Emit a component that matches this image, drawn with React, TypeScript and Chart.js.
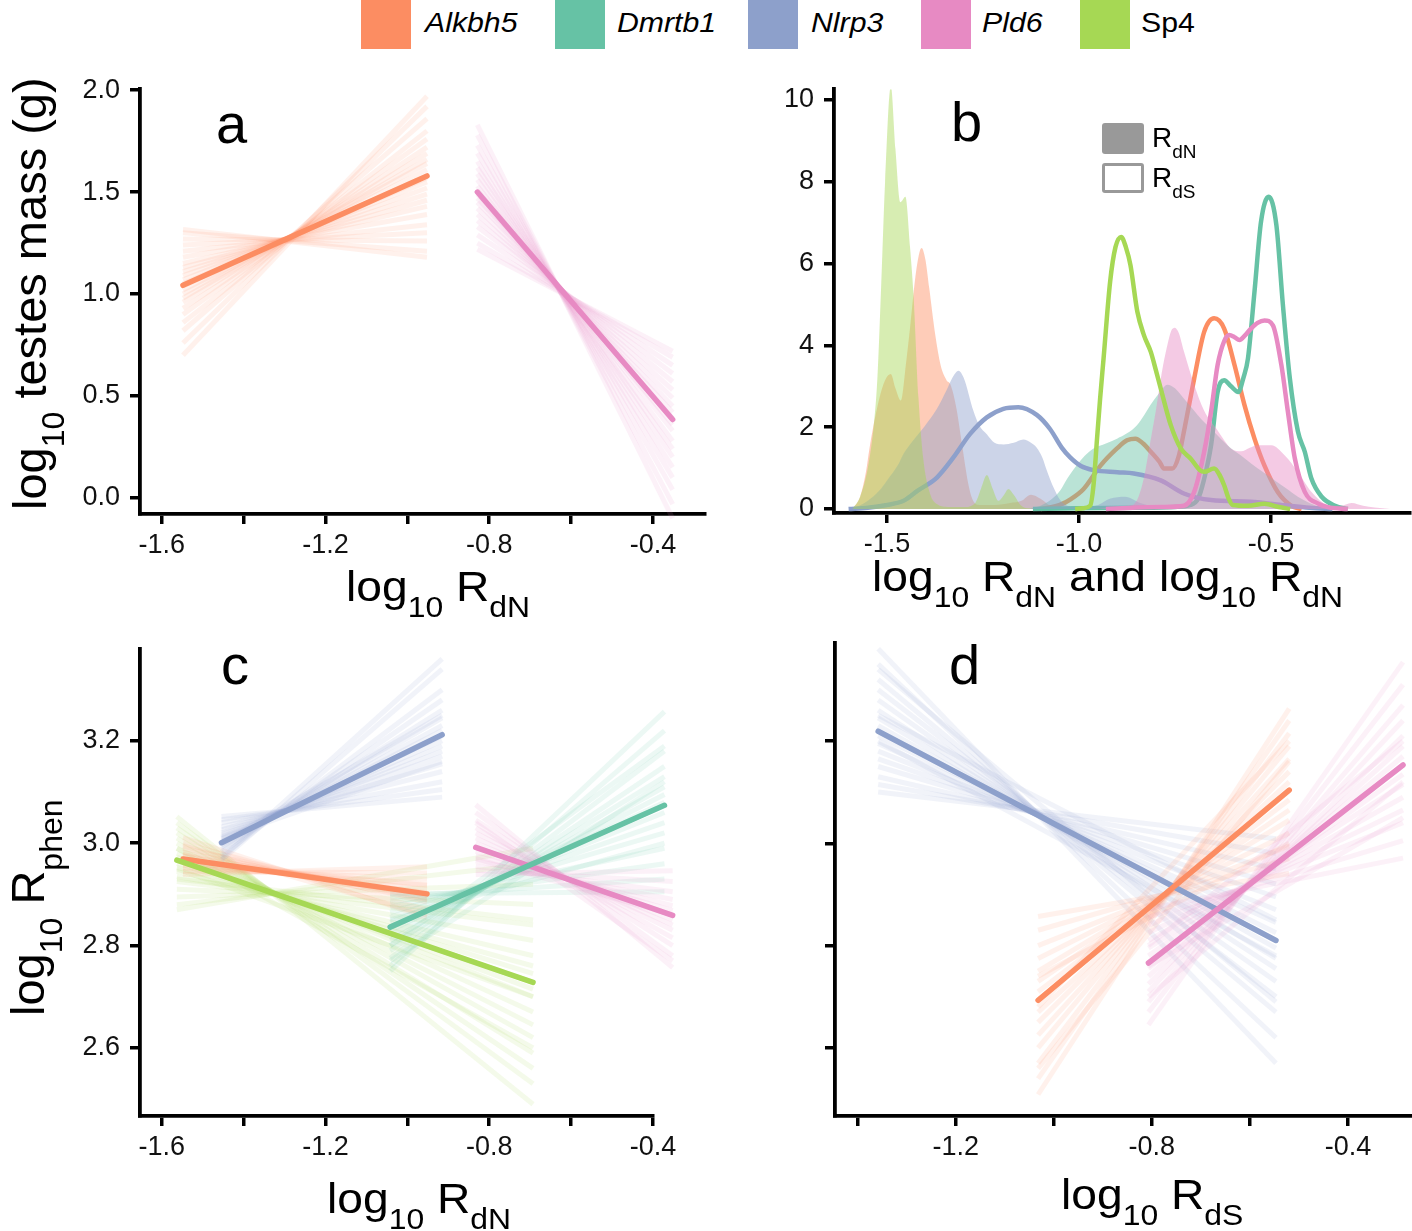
import React, { useEffect, useRef } from "react";
import { Chart, registerables } from "chart.js";

Chart.register(...registerables);

const FONT = '"Liberation Sans", Arial, Helvetica, sans-serif';

// ---------------- genes / legend ----------------
const GENES = ["Alkbh5", "Dmrtb1", "Nlrp3", "Pld6", "Sp4"];
const GENE_ITALIC = [true, true, true, true, false];
const GENE_COLORS = ["#FC8D62", "#66C2A5", "#8DA0CB", "#E78AC3", "#A6D854"];

// ---------------- ticks ----------------
const RDN_TICKS = [-1.6, -1.4, -1.2, -1.0, -0.8, -0.6, -0.4];
const RDN_TICK_LABELS = ["-1.6", "", "-1.2", "", "-0.8", "", "-0.4"];
const MASS_TICKS = [0, 0.5, 1.0, 1.5, 2.0];
const MASS_TICK_LABELS = ["0.0", "0.5", "1.0", "1.5", "2.0"];
const DENS_X_TICKS = [-1.5, -1.0, -0.5];
const DENS_X_LABELS = ["-1.5", "-1.0", "-0.5"];
const DENS_Y_TICKS = [0, 2, 4, 6, 8, 10];
const DENS_Y_LABELS = ["0", "2", "4", "6", "8", "10"];
const PHEN_TICKS = [2.6, 2.8, 3.0, 3.2];
const PHEN_TICK_LABELS = ["2.6", "2.8", "3.0", "3.2"];
const PHEN_TICK_LABELS_D = ["", "", "", ""];
const RDS_TICKS = [-1.4, -1.2, -1.0, -0.8, -0.6, -0.4];
const RDS_TICK_LABELS = ["", "-1.2", "", "-0.8", "", "-0.4"];

// ---------------- panel a: log10 testes mass vs log10 RdN ----------------
const A_ALKBH5_X = [-1.548, -0.952];
const A_ALKBH5_FIT = [1.043, 1.579];
const A_ALKBH5_DRAWS = [
  [0.7, 1.97], [0.76, 1.92], [0.82, 1.86], [0.86, 1.8], [0.9, 1.76], [0.93, 1.72],
  [0.96, 1.69], [0.98, 1.66], [1.0, 1.64], [1.02, 1.61], [1.04, 1.58], [1.05, 1.57],
  [1.07, 1.55], [1.09, 1.52], [1.11, 1.49], [1.13, 1.46], [1.15, 1.43], [1.18, 1.39],
  [1.21, 1.34], [1.24, 1.3], [1.27, 1.26], [1.3, 1.21], [1.317, 1.18],
];
const A_PLD6_X = [-0.829, -0.352];
const A_PLD6_FIT = [1.5, 0.385];
const A_PLD6_DRAWS = [
  [1.83, -0.1], [1.78, -0.03], [1.73, 0.04], [1.69, 0.1], [1.65, 0.15], [1.62, 0.2],
  [1.59, 0.24], [1.56, 0.28], [1.53, 0.33], [1.51, 0.36], [1.49, 0.39], [1.47, 0.42],
  [1.45, 0.45], [1.42, 0.49], [1.39, 0.53], [1.36, 0.57], [1.33, 0.61], [1.29, 0.65],
  [1.25, 0.69], [1.22, 0.72],
];

// ---------------- panel b: densities ----------------
const B_ALKBH5_RDN = [
  [-1.59, 0], [-1.57, 0.3], [-1.555, 0.9], [-1.544, 1.58], [-1.52, 2.7], [-1.505, 3.15],
  [-1.49, 3.3], [-1.478, 2.95], [-1.464, 2.65], [-1.45, 3.6], [-1.44, 4.43], [-1.423, 5.89],
  [-1.41, 6.38], [-1.4, 6.1], [-1.39, 5.4], [-1.375, 4.3], [-1.36, 3.5], [-1.345, 3.15],
  [-1.335, 3.05], [-1.32, 2.5], [-1.305, 1.6], [-1.29, 0.7], [-1.278, 0.25], [-1.26, 0.1],
  [-1.22, 0.1], [-1.18, 0.15], [-1.15, 0.2], [-1.125, 0.35], [-1.1, 0.25], [-1.07, 0.05], [-1.04, 0],
];
const B_DMRTB1_RDN = [
  [-1.13, 0], [-1.1, 0.08], [-1.07, 0.25], [-1.049, 0.45], [-1.03, 0.75], [-1.006, 1.07],
  [-0.985, 1.3], [-0.962, 1.48], [-0.93, 1.6], [-0.901, 1.72], [-0.875, 1.85], [-0.849, 2.05],
  [-0.83, 2.3], [-0.814, 2.54], [-0.79, 2.85], [-0.77, 3.04], [-0.75, 2.95], [-0.727, 2.7],
  [-0.7, 2.4], [-0.682, 2.2], [-0.66, 2.0], [-0.639, 1.8], [-0.604, 1.48], [-0.578, 1.31],
  [-0.55, 1.1], [-0.52, 0.9], [-0.49, 0.7], [-0.46, 0.5], [-0.43, 0.3], [-0.4, 0.15],
  [-0.37, 0.05], [-0.34, 0],
];
const B_NLRP3_RDN = [
  [-1.59, 0], [-1.55, 0.2], [-1.52, 0.45], [-1.5, 0.7], [-1.47, 1.1], [-1.457, 1.35],
  [-1.43, 1.7], [-1.4, 2.05], [-1.37, 2.45], [-1.345, 2.9], [-1.33, 3.2], [-1.314, 3.38],
  [-1.3, 3.2], [-1.275, 2.4], [-1.26, 2.05], [-1.24, 1.83], [-1.22, 1.62], [-1.197, 1.58],
  [-1.17, 1.62], [-1.145, 1.7], [-1.125, 1.62], [-1.11, 1.5], [-1.095, 1.25], [-1.084, 0.95],
  [-1.065, 0.5], [-1.049, 0.22], [-1.03, 0.08], [-1.0, 0.05], [-0.95, 0.1], [-0.92, 0.25],
  [-0.88, 0.3], [-0.84, 0.15], [-0.8, 0.05], [-0.75, 0],
];
const B_PLD6_RDN = [
  [-0.95, 0], [-0.9, 0.05], [-0.86, 0.1], [-0.845, 0.3], [-0.83, 0.8], [-0.815, 1.6],
  [-0.8, 2.4], [-0.785, 3.3], [-0.77, 4.0], [-0.76, 4.35], [-0.751, 4.43], [-0.74, 4.3],
  [-0.727, 3.86], [-0.7, 3.04], [-0.674, 2.4], [-0.639, 1.92], [-0.604, 1.48], [-0.578, 1.41],
  [-0.555, 1.5], [-0.534, 1.56], [-0.499, 1.56], [-0.464, 1.31], [-0.43, 0.91], [-0.395, 0.42],
  [-0.352, 0.1], [-0.32, 0.08], [-0.29, 0.15], [-0.26, 0.08], [-0.23, 0.04], [-0.19, 0],
];
const B_SP4_RDN = [
  [-1.59, 0], [-1.57, 0.3], [-1.55, 1.0], [-1.535, 2.0], [-1.525, 3.2], [-1.515, 5.5],
  [-1.505, 8.0], [-1.49, 10.33], [-1.478, 8.8], [-1.465, 7.5], [-1.452, 7.63], [-1.44, 6.4],
  [-1.431, 5.25], [-1.418, 2.72], [-1.405, 1.19], [-1.388, 0.38], [-1.37, 0.12], [-1.34, 0.05],
  [-1.3, 0.05], [-1.27, 0.15], [-1.255, 0.5], [-1.24, 0.83], [-1.225, 0.5], [-1.21, 0.2],
  [-1.195, 0.35], [-1.184, 0.49], [-1.17, 0.35], [-1.15, 0.08], [-1.12, 0],
];

const B_ALKBH5_RDS = [
  [-1.1, 0], [-1.05, 0.1], [-1.02, 0.25], [-0.988, 0.49], [-0.944, 1.06], [-0.901, 1.48],
  [-0.875, 1.68], [-0.853, 1.72], [-0.833, 1.6], [-0.813, 1.4], [-0.79, 1.15], [-0.779, 0.99],
  [-0.757, 0.99], [-0.74, 1.3], [-0.727, 1.88], [-0.7, 3.19], [-0.674, 4.33], [-0.648, 4.66],
  [-0.622, 4.41], [-0.595, 3.52], [-0.569, 2.54], [-0.543, 1.72], [-0.517, 1.06], [-0.482, 0.41],
  [-0.447, 0.08], [-0.42, 0],
];
const B_DMRTB1_RDS = [
  [-1.12, 0], [-1.0, 0.02], [-0.85, 0.03], [-0.75, 0.05], [-0.71, 0.1], [-0.69, 0.25],
  [-0.675, 0.7], [-0.656, 1.56], [-0.639, 2.86], [-0.622, 3.15], [-0.604, 3.0], [-0.585, 2.86],
  [-0.572, 3.2], [-0.56, 3.68], [-0.543, 5.31], [-0.526, 7.02], [-0.506, 7.63], [-0.486, 6.94],
  [-0.469, 4.99], [-0.451, 3.2], [-0.43, 1.9], [-0.412, 1.4], [-0.395, 0.75], [-0.368, 0.3],
  [-0.333, 0.08], [-0.3, 0],
];
const B_NLRP3_RDS = [
  [-1.6, 0], [-1.55, 0.03], [-1.5, 0.1], [-1.457, 0.2], [-1.42, 0.45], [-1.37, 0.77],
  [-1.327, 1.26], [-1.284, 1.83], [-1.24, 2.24], [-1.197, 2.45], [-1.158, 2.49], [-1.11, 2.3],
  [-1.075, 1.95], [-1.045, 1.5], [-1.023, 1.26], [-0.995, 1.05], [-0.962, 0.95], [-0.9, 0.9],
  [-0.857, 0.87], [-0.787, 0.7], [-0.727, 0.38], [-0.656, 0.22], [-0.552, 0.18], [-0.464, 0.09],
  [-0.4, 0.03], [-0.34, 0],
];
const B_PLD6_RDS = [
  [-0.93, 0], [-0.85, 0.04], [-0.78, 0.05], [-0.727, 0.08], [-0.7, 0.42], [-0.674, 1.4],
  [-0.656, 2.38], [-0.639, 3.52], [-0.622, 4.1], [-0.609, 4.25], [-0.595, 4.2], [-0.582, 4.13],
  [-0.567, 4.25], [-0.552, 4.41], [-0.535, 4.55], [-0.517, 4.61], [-0.495, 4.49], [-0.473, 3.52],
  [-0.456, 2.38], [-0.438, 1.24], [-0.412, 0.42], [-0.377, 0.13], [-0.35, 0.04], [-0.3, 0],
];
const B_SP4_RDS = [
  [-1.01, 0], [-0.99, 0.02], [-0.971, 0.08], [-0.962, 0.6], [-0.953, 1.72], [-0.945, 2.7],
  [-0.936, 3.68], [-0.919, 5.55], [-0.905, 6.4], [-0.89, 6.65], [-0.878, 6.4], [-0.866, 5.96],
  [-0.848, 4.82], [-0.831, 4.25], [-0.813, 3.84], [-0.8, 3.4], [-0.787, 2.94], [-0.761, 2.05],
  [-0.735, 1.48], [-0.709, 1.23], [-0.685, 0.95], [-0.674, 0.91], [-0.648, 0.99], [-0.635, 0.85],
  [-0.622, 0.58], [-0.61, 0.25], [-0.6, 0.1], [-0.56, 0.08], [-0.517, 0.13], [-0.48, 0.05], [-0.45, 0],
];

// ---------------- panel c: log10 Rphen vs log10 RdN ----------------
const C_NLRP3_X = [-1.454, -0.915];
const C_NLRP3_FIT = [3.001, 3.212];
const C_NLRP3_DRAWS = [
  [2.967, 3.34], [2.975, 3.3], [2.982, 3.28], [2.988, 3.26], [2.993, 3.245], [2.997, 3.23],
  [3.0, 3.22], [3.004, 3.21], [3.008, 3.2], [3.012, 3.19], [3.016, 3.18], [3.02, 3.17],
  [3.026, 3.155], [3.032, 3.14], [3.04, 3.12], [3.046, 3.105], [3.052, 3.09], [2.97, 3.36],
  [3.0, 3.25], [3.01, 3.16],
];
const C_ALKBH5_X = [-1.548, -0.952];
const C_ALKBH5_FIT = [2.969, 2.901];
const C_ALKBH5_DRAWS = [
  [3.011, 2.855], [3.0, 2.87], [2.99, 2.885], [2.982, 2.893], [2.975, 2.898], [2.969, 2.903],
  [2.963, 2.91], [2.957, 2.918], [2.951, 2.93], [2.945, 2.942], [2.939, 2.954], [2.995, 2.86],
  [2.96, 2.92], [2.978, 2.89],
];
const C_SP4_X = [-1.563, -0.693];
const C_SP4_FIT = [2.967, 2.728];
const C_SP4_DRAWS = [
  [3.052, 2.49], [3.04, 2.53], [3.03, 2.56], [3.02, 2.59], [3.01, 2.62], [3.0, 2.645],
  [2.99, 2.67], [2.98, 2.7], [2.973, 2.715], [2.967, 2.728], [2.96, 2.745], [2.953, 2.76],
  [2.945, 2.78], [2.935, 2.81], [2.925, 2.84], [2.91, 2.88], [2.895, 2.92], [2.88, 2.96],
  [2.87, 2.99], [2.99, 2.6], [2.95, 2.7], [2.93, 2.85],
];
const C_DMRTB1_X = [-1.042, -0.372];
const C_DMRTB1_FIT = [2.836, 3.074];
const C_DMRTB1_DRAWS = [
  [2.75, 3.257], [2.76, 3.22], [2.775, 3.18], [2.79, 3.15], [2.8, 3.13], [2.81, 3.11],
  [2.82, 3.095], [2.83, 3.08], [2.836, 3.074], [2.845, 3.06], [2.855, 3.04], [2.865, 3.02],
  [2.875, 2.99], [2.885, 2.96], [2.895, 2.93], [2.901, 2.905], [2.77, 3.12], [2.85, 3.0],
  [2.8, 3.19],
];
const C_PLD6_X = [-0.833, -0.352];
const C_PLD6_FIT = [2.992, 2.859];
const C_PLD6_DRAWS = [
  [3.075, 2.757], [3.06, 2.78], [3.045, 2.8], [3.03, 2.815], [3.02, 2.83], [3.01, 2.84],
  [3.0, 2.85], [2.992, 2.859], [2.984, 2.868], [2.975, 2.878], [2.965, 2.89], [2.955, 2.905],
  [2.947, 2.925], [2.939, 2.946], [3.04, 2.77], [2.97, 2.86],
];

// ---------------- panel d: log10 Rphen vs log10 RdS ----------------
const D_NLRP3_X = [-1.358, -0.547];
const D_NLRP3_FIT = [3.219, 2.81];
const D_NLRP3_DRAWS = [
  [3.38, 2.57], [3.35, 2.62], [3.32, 2.67], [3.3, 2.7], [3.28, 2.73], [3.26, 2.755],
  [3.245, 2.775], [3.23, 2.795], [3.219, 2.81], [3.21, 2.825], [3.195, 2.845], [3.18, 2.87],
  [3.165, 2.895], [3.15, 2.92], [3.13, 2.95], [3.115, 2.98], [3.1, 3.009], [3.34, 2.69],
  [3.2, 2.78], [3.25, 2.85],
];
const D_ALKBH5_X = [-1.032, -0.52];
const D_ALKBH5_FIT = [2.693, 3.104];
const D_ALKBH5_DRAWS = [
  [2.509, 3.263], [2.54, 3.24], [2.57, 3.215], [2.6, 3.19], [2.625, 3.165], [2.65, 3.14],
  [2.67, 3.12], [2.693, 3.104], [2.71, 3.085], [2.73, 3.065], [2.75, 3.045], [2.775, 3.02],
  [2.8, 2.995], [2.83, 2.97], [2.857, 2.941], [2.56, 3.16], [2.68, 3.2], [2.74, 3.0],
];
const D_PLD6_X = [-0.807, -0.288];
const D_PLD6_FIT = [2.766, 3.153];
const D_PLD6_DRAWS = [
  [2.645, 3.354], [2.67, 3.31], [2.69, 3.27], [2.71, 3.24], [2.725, 3.21], [2.74, 3.19],
  [2.755, 3.17], [2.766, 3.153], [2.78, 3.135], [2.795, 3.115], [2.81, 3.09], [2.825, 3.065],
  [2.84, 3.04], [2.855, 3.005], [2.872, 2.971], [2.7, 3.12], [2.8, 3.2], [2.76, 3.05],
];

// ---------------- helpers ----------------
function rgba(hex: string, a: number) {
  const n = parseInt(hex.slice(1), 16);
  return `rgba(${(n >> 16) & 255},${(n >> 8) & 255},${n & 255},${a})`;
}
const col = (gene: string) => GENE_COLORS[GENES.indexOf(gene)];

function drawSets(gene: string, xs: number[], draws: number[][], clip: any) {
  const c = col(gene);
  return draws.map((d) => ({
    data: [{ x: xs[0], y: d[0] }, { x: xs[1], y: d[1] }],
    borderColor: rgba(c, 0.12),
    borderWidth: 5,
    pointRadius: 0,
    fill: false,
    clip,
  }));
}
function fitSet(gene: string, xs: number[], fit: number[], clip: any) {
  return {
    data: [{ x: xs[0], y: fit[0] }, { x: xs[1], y: fit[1] }],
    borderColor: col(gene),
    borderWidth: 5.5,
    borderCapStyle: "round",
    pointRadius: 0,
    fill: false,
    clip,
  };
}
function densFill(gene: string, pts: number[][]) {
  return {
    data: pts.map((p) => ({ x: p[0], y: p[1] })),
    borderColor: "rgba(0,0,0,0)",
    borderWidth: 0,
    backgroundColor: rgba(col(gene), 0.45),
    fill: "origin",
    pointRadius: 0,
    cubicInterpolationMode: "monotone",
  };
}
function densLine(gene: string, pts: number[][]) {
  return {
    data: pts.map((p) => ({ x: p[0], y: p[1] })),
    borderColor: col(gene),
    borderWidth: 4.5,
    fill: false,
    pointRadius: 0,
    cubicInterpolationMode: "monotone",
  };
}

type Axis = { min: number; max: number; ticks: number[]; labels: string[] };
type Spec = {
  rect: { l: number; t: number; r: number; b: number };
  yW: number;
  xH: number;
  padT: number;
  padR: number;
  x: Axis;
  y: Axis;
  datasets: any[];
};

function scale(ax: Axis, isX: boolean, size: number) {
  return {
    type: "linear",
    position: isX ? "bottom" : "left",
    min: ax.min,
    max: ax.max,
    afterBuildTicks: (s: any) => {
      s.ticks = ax.ticks.map((v) => ({ value: v }));
    },
    afterFit: (s: any) => {
      if (isX) s.height = size;
      else s.width = size;
    },
    ticks: {
      autoSkip: false,
      maxRotation: 0,
      minRotation: 0,
      padding: isX ? 5 : 10,
      color: "#111",
      font: { family: FONT, size: 27 },
      callback: (_v: any, i: number) => ax.labels[i] ?? "",
    },
    grid: {
      display: true,
      drawOnChartArea: false,
      drawTicks: true,
      tickLength: 10,
      color: "#000",
      lineWidth: 3.5,
    },
    border: { display: true, color: "#000", width: 3.8 },
  };
}

function ChartPanel({ spec }: { spec: Spec }) {
  const ref = useRef<HTMLCanvasElement>(null);
  useEffect(() => {
    const ds = spec.datasets.map((d, i) => ({ ...d, order: spec.datasets.length - i }));
    const chart = new Chart(ref.current as HTMLCanvasElement, {
      type: "line",
      data: { datasets: ds },
      options: {
        animation: false,
        responsive: true,
        maintainAspectRatio: false,
        events: [],
        layout: { padding: { left: 0, top: spec.padT, right: spec.padR, bottom: 0 } },
        plugins: { legend: { display: false }, tooltip: { enabled: false } },
        scales: { x: scale(spec.x, true, spec.xH), y: scale(spec.y, false, spec.yW) },
      } as any,
    });
    return () => chart.destroy();
  }, []);
  const { rect, yW, xH, padT, padR } = spec;
  return (
    <div
      style={{
        position: "absolute",
        left: rect.l - yW,
        top: rect.t - padT,
        width: rect.r - rect.l + yW + padR,
        height: rect.b - rect.t + padT + xH,
      }}
    >
      <canvas ref={ref} />
    </div>
  );
}

// ---------------- panel specs ----------------
const PANEL_A: Spec = {
  rect: { l: 140, t: 87, r: 705, b: 514 },
  yW: 140, xH: 60, padT: 24, padR: 40,
  x: { min: -1.653, max: -0.273, ticks: RDN_TICKS, labels: RDN_TICK_LABELS },
  y: { min: -0.0785, max: 2.0044, ticks: MASS_TICKS, labels: MASS_TICK_LABELS },
  datasets: [
    ...drawSets("Alkbh5", A_ALKBH5_X, A_ALKBH5_DRAWS, false),
    ...drawSets("Pld6", A_PLD6_X, A_PLD6_DRAWS, false),
    fitSet("Alkbh5", A_ALKBH5_X, A_ALKBH5_FIT, false),
    fitSet("Pld6", A_PLD6_X, A_PLD6_FIT, false),
  ],
};

const PANEL_B: Spec = {
  rect: { l: 834, t: 87, r: 1410, b: 513 },
  yW: 140, xH: 60, padT: 24, padR: 2,
  x: { min: -1.638, max: -0.138, ticks: DENS_X_TICKS, labels: DENS_X_LABELS },
  y: { min: -0.097, max: 10.26, ticks: DENS_Y_TICKS, labels: DENS_Y_LABELS },
  datasets: [
    densFill("Alkbh5", B_ALKBH5_RDN),
    densLine("Alkbh5", B_ALKBH5_RDS),
    densFill("Dmrtb1", B_DMRTB1_RDN),
    densLine("Dmrtb1", B_DMRTB1_RDS),
    densFill("Nlrp3", B_NLRP3_RDN),
    densLine("Nlrp3", B_NLRP3_RDS),
    densFill("Pld6", B_PLD6_RDN),
    densLine("Pld6", B_PLD6_RDS),
    densFill("Sp4", B_SP4_RDN),
    densLine("Sp4", B_SP4_RDS),
  ],
};

const PANEL_C: Spec = {
  rect: { l: 140, t: 647, r: 653, b: 1116 },
  yW: 140, xH: 60, padT: 24, padR: 60,
  x: { min: -1.653, max: -0.4, ticks: RDN_TICKS, labels: RDN_TICK_LABELS },
  y: { min: 2.467, max: 3.379, ticks: PHEN_TICKS, labels: PHEN_TICK_LABELS },
  datasets: [
    ...drawSets("Sp4", C_SP4_X, C_SP4_DRAWS, false),
    ...drawSets("Alkbh5", C_ALKBH5_X, C_ALKBH5_DRAWS, false),
    ...drawSets("Nlrp3", C_NLRP3_X, C_NLRP3_DRAWS, false),
    ...drawSets("Dmrtb1", C_DMRTB1_X, C_DMRTB1_DRAWS, false),
    ...drawSets("Pld6", C_PLD6_X, C_PLD6_DRAWS, false),
    fitSet("Nlrp3", C_NLRP3_X, C_NLRP3_FIT, false),
    fitSet("Alkbh5", C_ALKBH5_X, C_ALKBH5_FIT, false),
    fitSet("Sp4", C_SP4_X, C_SP4_FIT, false),
    fitSet("Pld6", C_PLD6_X, C_PLD6_FIT, false),
    fitSet("Dmrtb1", C_DMRTB1_X, C_DMRTB1_FIT, false),
  ],
};

const PANEL_D: Spec = {
  rect: { l: 835, t: 641, r: 1412, b: 1116 },
  yW: 140, xH: 60, padT: 24, padR: 0,
  x: { min: -1.446, max: -0.2697, ticks: RDS_TICKS, labels: RDS_TICK_LABELS },
  y: { min: 2.467, max: 3.391, ticks: PHEN_TICKS, labels: PHEN_TICK_LABELS_D },
  datasets: [
    ...drawSets("Nlrp3", D_NLRP3_X, D_NLRP3_DRAWS, false),
    ...drawSets("Alkbh5", D_ALKBH5_X, D_ALKBH5_DRAWS, false),
    ...drawSets("Pld6", D_PLD6_X, D_PLD6_DRAWS, false),
    fitSet("Nlrp3", D_NLRP3_X, D_NLRP3_FIT, false),
    fitSet("Alkbh5", D_ALKBH5_X, D_ALKBH5_FIT, false),
    fitSet("Pld6", D_PLD6_X, D_PLD6_FIT, false),
  ],
};

// ---------------- text overlays ----------------
const subStyle = (size: number, shift: number): React.CSSProperties => ({
  fontSize: size,
  verticalAlign: -shift,
  lineHeight: 0,
});

function XTitle({ children, left, top }: any) {
  return (
    <div
      style={{
        position: "absolute",
        left,
        top,
        fontSize: 42,
        lineHeight: 1,
        whiteSpace: "nowrap",
        color: "#000",
        transformOrigin: "0 0",
        transform: "scaleX(1.1)",
      }}
    >
      {children}
    </div>
  );
}
const S10 = () => <span style={subStyle(29, 16)}>10</span>;

function YTitle({ children, left, bottom }: any) {
  return (
    <div
      style={{
        position: "absolute",
        left,
        top: bottom,
        transformOrigin: "0 0",
        transform: "rotate(-90deg)",
        fontSize: 47,
        lineHeight: 1,
        whiteSpace: "nowrap",
        color: "#000",
      }}
    >
      {children}
    </div>
  );
}

function Letter({ ch, left, baseline }: any) {
  return (
    <div style={{ position: "absolute", left, top: baseline - 48, fontSize: 56, lineHeight: 1, color: "#000" }}>{ch}</div>
  );
}

const LEGEND_X = [361, 555, 748, 921, 1080];
const LEGEND_TEXT_X = [425, 617, 811, 982, 1141];

export default function App() {
  return (
    <div
      style={{
        position: "absolute",
        left: 0,
        top: 0,
        width: 1412,
        height: 1231,
        overflow: "hidden",
        background: "#fff",
        fontFamily: FONT,
      }}
    >
      <ChartPanel spec={PANEL_A} />
      <ChartPanel spec={PANEL_B} />
      <ChartPanel spec={PANEL_C} />
      <ChartPanel spec={PANEL_D} />

      {/* top legend */}
      {GENES.map((g, i) => (
        <React.Fragment key={g}>
          <div style={{ position: "absolute", left: LEGEND_X[i], top: 0, width: 50, height: 49, background: GENE_COLORS[i] }} />
          <div
            style={{
              position: "absolute",
              left: LEGEND_TEXT_X[i],
              top: 9,
              fontSize: 28,
              lineHeight: 1,
              fontStyle: GENE_ITALIC[i] ? "italic" : "normal",
              color: "#000",
              transformOrigin: "0 0",
              transform: "scaleX(1.08)",
            }}
          >
            {g}
          </div>
        </React.Fragment>
      ))}

      {/* panel b inner legend */}
      <div style={{ position: "absolute", left: 1102, top: 123, width: 42, height: 31, background: "#999", borderRadius: 3 }} />
      <div
        style={{
          position: "absolute",
          left: 1102,
          top: 163,
          width: 42,
          height: 30,
          border: "3px solid #999",
          boxSizing: "border-box",
          borderRadius: 3,
          background: "#fff",
        }}
      />
      <div style={{ position: "absolute", left: 1152, top: 124, fontSize: 28, lineHeight: 1 }}>
        R<span style={subStyle(19, 11)}>dN</span>
      </div>
      <div style={{ position: "absolute", left: 1152, top: 164, fontSize: 28, lineHeight: 1 }}>
        R<span style={subStyle(19, 11)}>dS</span>
      </div>

      {/* panel letters */}
      <Letter ch="a" left={216} baseline={144} />
      <Letter ch="b" left={951} baseline={142} />
      <Letter ch="c" left={221} baseline={685} />
      <Letter ch="d" left={949} baseline={685} />

      {/* axis titles */}
      <XTitle left={346} top={566}>
        log<S10 /> R<span style={subStyle(29, 16)}>dN</span>
      </XTitle>
      <XTitle left={872} top={556}>
        log<S10 /> R<span style={subStyle(29, 16)}>dN</span> and log<S10 /> R<span style={subStyle(29, 16)}>dN</span>
      </XTitle>
      <XTitle left={327} top={1178}>
        log<S10 /> R<span style={subStyle(29, 16)}>dN</span>
      </XTitle>
      <XTitle left={1061} top={1174}>
        log<S10 /> R<span style={subStyle(29, 16)}>dS</span>
      </XTitle>

      <YTitle left={6} bottom={510}>
        log<span style={subStyle(32, 18)}>10</span> testes mass (g)
      </YTitle>
      <YTitle left={4} bottom={1016}>
        log<span style={subStyle(32, 18)}>10</span> R<span style={subStyle(32, 18)}>phen</span>
      </YTitle>
    </div>
  );
}
